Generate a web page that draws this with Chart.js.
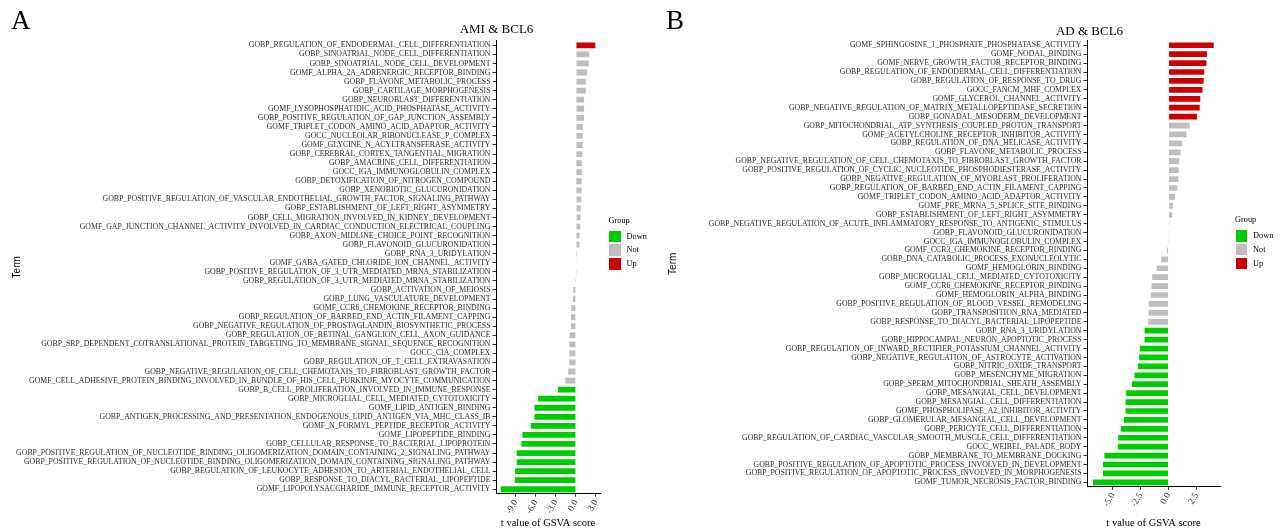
<!DOCTYPE html>
<html lang="en">
<head>
<meta charset="UTF-8">
<title>GSVA t values - AMI &amp; BCL6 / AD &amp; BCL6</title>
<script src="https://cdn.jsdelivr.net/npm/chart.js"></script>
<style>
  body { margin: 0; background: #fff; }
  #page { position: relative; width: 1285px; height: 529px; overflow: hidden; font-family: "Liberation Serif", serif; color: #000; }
  canvas { position: absolute; top: 0; }
  .tag { position: absolute; font-size: 27px; line-height: 27px; }
  .plot-title { position: absolute; font-size: 13px; line-height: 13px; white-space: nowrap; transform: translateX(-50%); }
  .lg-title, .lg-label { position: absolute; font-size: 8.3px; white-space: nowrap; }
  .lg-title { line-height: 8px; }
  .lg-key { position: absolute; width: 11.5px; height: 11.5px; }
</style>
</head>
<body>
<div id="page">
  <canvas id="chartA" width="640" height="529" style="left:0"></canvas>
  <canvas id="chartB" width="645" height="529" style="left:640px"></canvas>
  <div class="tag" style="left:11px; top:6.5px">A</div>
  <div class="tag" style="left:666px; top:6.5px">B</div>
  <div class="plot-title" style="left:496.5px; top:22px">AMI &amp; BCL6</div>
  <div class="plot-title" style="left:1089.5px; top:23.5px">AD &amp; BCL6</div>
</div>
<script>
// ---- data: panel A (AMI & BCL6) ----
const amiTerms = [
  'GOBP_REGULATION_OF_ENDODERMAL_CELL_DIFFERENTIATION',
  'GOBP_SINOATRIAL_NODE_CELL_DIFFERENTIATION',
  'GOBP_SINOATRIAL_NODE_CELL_DEVELOPMENT',
  'GOMF_ALPHA_2A_ADRENERGIC_RECEPTOR_BINDING',
  'GOBP_FLAVONE_METABOLIC_PROCESS',
  'GOBP_CARTILAGE_MORPHOGENESIS',
  'GOBP_NEUROBLAST_DIFFERENTIATION',
  'GOMF_LYSOPHOSPHATIDIC_ACID_PHOSPHATASE_ACTIVITY',
  'GOBP_POSITIVE_REGULATION_OF_GAP_JUNCTION_ASSEMBLY',
  'GOMF_TRIPLET_CODON_AMINO_ACID_ADAPTOR_ACTIVITY',
  'GOCC_NUCLEOLAR_RIBONUCLEASE_P_COMPLEX',
  'GOMF_GLYCINE_N_ACYLTRANSFERASE_ACTIVITY',
  'GOBP_CEREBRAL_CORTEX_TANGENTIAL_MIGRATION',
  'GOBP_AMACRINE_CELL_DIFFERENTIATION',
  'GOCC_IGA_IMMUNOGLOBULIN_COMPLEX',
  'GOBP_DETOXIFICATION_OF_NITROGEN_COMPOUND',
  'GOBP_XENOBIOTIC_GLUCURONIDATION',
  'GOBP_POSITIVE_REGULATION_OF_VASCULAR_ENDOTHELIAL_GROWTH_FACTOR_SIGNALING_PATHWAY',
  'GOBP_ESTABLISHMENT_OF_LEFT_RIGHT_ASYMMETRY',
  'GOBP_CELL_MIGRATION_INVOLVED_IN_KIDNEY_DEVELOPMENT',
  'GOMF_GAP_JUNCTION_CHANNEL_ACTIVITY_INVOLVED_IN_CARDIAC_CONDUCTION_ELECTRICAL_COUPLING',
  'GOBP_AXON_MIDLINE_CHOICE_POINT_RECOGNITION',
  'GOBP_FLAVONOID_GLUCURONIDATION',
  'GOBP_RNA_3_URIDYLATION',
  'GOMF_GABA_GATED_CHLORIDE_ION_CHANNEL_ACTIVITY',
  'GOBP_POSITIVE_REGULATION_OF_3_UTR_MEDIATED_MRNA_STABILIZATION',
  'GOBP_REGULATION_OF_3_UTR_MEDIATED_MRNA_STABILIZATION',
  'GOBP_ACTIVATION_OF_MEIOSIS',
  'GOBP_LUNG_VASCULATURE_DEVELOPMENT',
  'GOMF_CCR6_CHEMOKINE_RECEPTOR_BINDING',
  'GOBP_REGULATION_OF_BARBED_END_ACTIN_FILAMENT_CAPPING',
  'GOBP_NEGATIVE_REGULATION_OF_PROSTAGLANDIN_BIOSYNTHETIC_PROCESS',
  'GOBP_REGULATION_OF_RETINAL_GANGLION_CELL_AXON_GUIDANCE',
  'GOBP_SRP_DEPENDENT_COTRANSLATIONAL_PROTEIN_TARGETING_TO_MEMBRANE_SIGNAL_SEQUENCE_RECOGNITION',
  'GOCC_CIA_COMPLEX',
  'GOBP_REGULATION_OF_T_CELL_EXTRAVASATION',
  'GOBP_NEGATIVE_REGULATION_OF_CELL_CHEMOTAXIS_TO_FIBROBLAST_GROWTH_FACTOR',
  'GOMF_CELL_ADHESIVE_PROTEIN_BINDING_INVOLVED_IN_BUNDLE_OF_HIS_CELL_PURKINJE_MYOCYTE_COMMUNICATION',
  'GOBP_B_CELL_PROLIFERATION_INVOLVED_IN_IMMUNE_RESPONSE',
  'GOBP_MICROGLIAL_CELL_MEDIATED_CYTOTOXICITY',
  'GOMF_LIPID_ANTIGEN_BINDING',
  'GOBP_ANTIGEN_PROCESSING_AND_PRESENTATION_ENDOGENOUS_LIPID_ANTIGEN_VIA_MHC_CLASS_IB',
  'GOMF_N_FORMYL_PEPTIDE_RECEPTOR_ACTIVITY',
  'GOMF_LIPOPEPTIDE_BINDING',
  'GOBP_CELLULAR_RESPONSE_TO_BACTERIAL_LIPOPROTEIN',
  'GOBP_POSITIVE_REGULATION_OF_NUCLEOTIDE_BINDING_OLIGOMERIZATION_DOMAIN_CONTAINING_2_SIGNALING_PATHWAY',
  'GOBP_POSITIVE_REGULATION_OF_NUCLEOTIDE_BINDING_OLIGOMERIZATION_DOMAIN_CONTAINING_SIGNALING_PATHWAY',
  'GOBP_REGULATION_OF_LEUKOCYTE_ADHESION_TO_ARTERIAL_ENDOTHELIAL_CELL',
  'GOBP_RESPONSE_TO_DIACYL_BACTERIAL_LIPOPEPTIDE',
  'GOMF_LIPOPOLYSACCHARIDE_IMMUNE_RECEPTOR_ACTIVITY'
];
const amiValues = [
  2.9, 2.0, 1.92, 1.68, 1.48, 1.48, 1.22, 1.22, 1.2, 1.02,
  1.0, 1.0, 0.95, 0.9, 0.9, 0.85, 0.85, 0.8, 0.75, 0.7,
  0.65, 0.55, 0.55, 0.15, 0.1, 0.02, -0.02, -0.4, -0.45, -0.7,
  -0.75, -0.75, -0.95, -0.95, -0.95, -1.0, -1.15, -1.6, -2.7, -5.65,
  -6.2, -6.2, -6.75, -8.0, -8.15, -8.85, -8.85, -9.1, -9.15, -11.25
];
const amiGroups = [
  'Up', 'Not', 'Not', 'Not', 'Not', 'Not', 'Not', 'Not', 'Not', 'Not',
  'Not', 'Not', 'Not', 'Not', 'Not', 'Not', 'Not', 'Not', 'Not', 'Not',
  'Not', 'Not', 'Not', 'Not', 'Not', 'Not', 'Not', 'Not', 'Not', 'Not',
  'Not', 'Not', 'Not', 'Not', 'Not', 'Not', 'Not', 'Not', 'Down', 'Down',
  'Down', 'Down', 'Down', 'Down', 'Down', 'Down', 'Down', 'Down', 'Down', 'Down'
];

// ---- data: panel B (AD & BCL6) ----
const adTerms = [
  'GOMF_SPHINGOSINE_1_PHOSPHATE_PHOSPHATASE_ACTIVITY',
  'GOMF_NODAL_BINDING',
  'GOMF_NERVE_GROWTH_FACTOR_RECEPTOR_BINDING',
  'GOBP_REGULATION_OF_ENDODERMAL_CELL_DIFFERENTIATION',
  'GOBP_REGULATION_OF_RESPONSE_TO_DRUG',
  'GOCC_FANCM_MHF_COMPLEX',
  'GOMF_GLYCEROL_CHANNEL_ACTIVITY',
  'GOBP_NEGATIVE_REGULATION_OF_MATRIX_METALLOPEPTIDASE_SECRETION',
  'GOBP_GONADAL_MESODERM_DEVELOPMENT',
  'GOBP_MITOCHONDRIAL_ATP_SYNTHESIS_COUPLED_PROTON_TRANSPORT',
  'GOMF_ACETYLCHOLINE_RECEPTOR_INHIBITOR_ACTIVITY',
  'GOBP_REGULATION_OF_DNA_HELICASE_ACTIVITY',
  'GOBP_FLAVONE_METABOLIC_PROCESS',
  'GOBP_NEGATIVE_REGULATION_OF_CELL_CHEMOTAXIS_TO_FIBROBLAST_GROWTH_FACTOR',
  'GOBP_POSITIVE_REGULATION_OF_CYCLIC_NUCLEOTIDE_PHOSPHODIESTERASE_ACTIVITY',
  'GOBP_NEGATIVE_REGULATION_OF_MYOBLAST_PROLIFERATION',
  'GOBP_REGULATION_OF_BARBED_END_ACTIN_FILAMENT_CAPPING',
  'GOMF_TRIPLET_CODON_AMINO_ACID_ADAPTOR_ACTIVITY',
  'GOMF_PRE_MRNA_5_SPLICE_SITE_BINDING',
  'GOBP_ESTABLISHMENT_OF_LEFT_RIGHT_ASYMMETRY',
  'GOBP_NEGATIVE_REGULATION_OF_ACUTE_INFLAMMATORY_RESPONSE_TO_ANTIGENIC_STIMULUS',
  'GOBP_FLAVONOID_GLUCURONIDATION',
  'GOCC_IGA_IMMUNOGLOBULIN_COMPLEX',
  'GOMF_CCR3_CHEMOKINE_RECEPTOR_BINDING',
  'GOBP_DNA_CATABOLIC_PROCESS_EXONUCLEOLYTIC',
  'GOMF_HEMOGLOBIN_BINDING',
  'GOBP_MICROGLIAL_CELL_MEDIATED_CYTOTOXICITY',
  'GOMF_CCR6_CHEMOKINE_RECEPTOR_BINDING',
  'GOMF_HEMOGLOBIN_ALPHA_BINDING',
  'GOBP_POSITIVE_REGULATION_OF_BLOOD_VESSEL_REMODELING',
  'GOBP_TRANSPOSITION_RNA_MEDIATED',
  'GOBP_RESPONSE_TO_DIACYL_BACTERIAL_LIPOPEPTIDE',
  'GOBP_RNA_3_URIDYLATION',
  'GOBP_HIPPOCAMPAL_NEURON_APOPTOTIC_PROCESS',
  'GOBP_REGULATION_OF_INWARD_RECTIFIER_POTASSIUM_CHANNEL_ACTIVITY',
  'GOBP_NEGATIVE_REGULATION_OF_ASTROCYTE_ACTIVATION',
  'GOBP_NITRIC_OXIDE_TRANSPORT',
  'GOBP_MESENCHYME_MIGRATION',
  'GOBP_SPERM_MITOCHONDRIAL_SHEATH_ASSEMBLY',
  'GOBP_MESANGIAL_CELL_DEVELOPMENT',
  'GOBP_MESANGIAL_CELL_DIFFERENTIATION',
  'GOMF_PHOSPHOLIPASE_A2_INHIBITOR_ACTIVITY',
  'GOBP_GLOMERULAR_MESANGIAL_CELL_DEVELOPMENT',
  'GOBP_PERICYTE_CELL_DIFFERENTIATION',
  'GOBP_REGULATION_OF_CARDIAC_VASCULAR_SMOOTH_MUSCLE_CELL_DIFFERENTIATION',
  'GOCC_WEIBEL_PALADE_BODY',
  'GOBP_MEMBRANE_TO_MEMBRANE_DOCKING',
  'GOBP_POSITIVE_REGULATION_OF_APOPTOTIC_PROCESS_INVOLVED_IN_DEVELOPMENT',
  'GOBP_POSITIVE_REGULATION_OF_APOPTOTIC_PROCESS_INVOLVED_IN_MORPHOGENESIS',
  'GOMF_TUMOR_NECROSIS_FACTOR_BINDING'
];
const adValues = [
  4.05, 3.45, 3.4, 3.2, 3.15, 3.05, 2.85, 2.8, 2.55, 1.9,
  1.6, 1.2, 1.08, 0.96, 0.9, 0.87, 0.78, 0.57, 0.39, 0.33,
  0.08, 0.02, -0.02, -0.15, -0.66, -1.05, -1.47, -1.53, -1.6, -1.77,
  -1.8, -1.83, -2.16, -2.16, -2.58, -2.64, -2.76, -3.06, -3.3, -3.81,
  -3.87, -3.87, -4.02, -4.29, -4.53, -4.56, -5.77, -5.89, -5.89, -6.79
];
const adGroups = [
  'Up', 'Up', 'Up', 'Up', 'Up', 'Up', 'Up', 'Up', 'Up', 'Not',
  'Not', 'Not', 'Not', 'Not', 'Not', 'Not', 'Not', 'Not', 'Not', 'Not',
  'Not', 'Not', 'Not', 'Not', 'Not', 'Not', 'Not', 'Not', 'Not', 'Not',
  'Not', 'Not', 'Down', 'Down', 'Down', 'Down', 'Down', 'Down', 'Down', 'Down',
  'Down', 'Down', 'Down', 'Down', 'Down', 'Down', 'Down', 'Down', 'Down', 'Down'
];

const groupNames = ['Down', 'Not', 'Up'];
const groupColors = { Down: '#00CD00', Not: '#BEBEBE', Up: '#CD0000' };

const SERIF = "'Liberation Serif', 'Times New Roman', serif";
const SANS = "'Liberation Sans', Arial, sans-serif";

// one dataset per group, stacked so each term keeps a single bar slot
function buildDatasets(values, groups) {
  return groupNames.map(g => ({
    label: g,
    data: values.map((v, i) => (groups[i] === g ? v : null)),
    backgroundColor: groupColors[g],
    borderWidth: 0,
    barPercentage: 0.64,
    categoryPercentage: 1.0
  }));
}

function drawPanel(id, terms, values, groups, p) {
  return new Chart(document.getElementById(id), {
    type: 'bar',
    data: { labels: terms, datasets: buildDatasets(values, groups) },
    options: {
      indexAxis: 'y',
      responsive: false,
      animation: false,
      events: [],
      layout: { padding: { top: p.top, right: p.right, bottom: 0, left: 0 } },
      plugins: { legend: { display: false }, tooltip: { enabled: false } },
      scales: {
        x: {
          type: 'linear',
          stacked: true,
          min: p.xMin,
          max: p.xMax,
          border: { display: true, color: '#000', width: 1 },
          grid: { drawOnChartArea: false, drawTicks: true, tickLength: 3, color: '#333' },
          ticks: {
            stepSize: p.step,
            includeBounds: false,
            autoSkip: false,
            minRotation: 60,
            maxRotation: 60,
            padding: 1,
            color: '#333',
            font: { family: SERIF, size: 9.2 },
            callback: v => Number(v).toFixed(1)
          },
          title: {
            display: true,
            text: 't value of GSVA score',
            color: '#000',
            font: { family: SERIF, size: 10.5, lineHeight: 1.1 },
            padding: { top: 0, bottom: 0 }
          },
          afterFit: s => { s.height = p.xHeight; }
        },
        y: {
          type: 'category',
          stacked: true,
          border: { display: true, color: '#000', width: 1 },
          grid: { offset: false, drawOnChartArea: false, drawTicks: true, tickLength: 3.5, color: '#333' },
          ticks: {
            autoSkip: false,
            padding: 2,
            color: '#2e2e2e',
            font: { family: SERIF, size: 7.8 }
          },
          title: {
            display: true,
            text: 'Term',
            color: '#000',
            font: { family: SANS, size: 10, lineHeight: 1.2 },
            padding: { top: p.termPad, bottom: 0 }
          },
          afterFit: s => { s.width = p.yWidth; }
        }
      }
    }
  });
}

function drawLegend(left, titleTop, keyTop, step) {
  const page = document.getElementById('page');
  const t = document.createElement('div');
  t.className = 'lg-title';
  t.style.left = left + 'px';
  t.style.top = titleTop + 'px';
  t.textContent = 'Group';
  page.appendChild(t);
  groupNames.forEach((g, i) => {
    const k = document.createElement('div');
    k.className = 'lg-key';
    k.style.left = (left + 0.8) + 'px';
    k.style.top = (keyTop + i * step) + 'px';
    k.style.background = groupColors[g];
    page.appendChild(k);
    const l = document.createElement('div');
    l.className = 'lg-label';
    l.style.left = (left + 18) + 'px';
    l.style.top = (keyTop + i * step) + 'px';
    l.style.lineHeight = '11.5px';
    l.textContent = g;
    page.appendChild(l);
  });
}

drawPanel('chartA', amiTerms, amiValues, amiGroups, {
  top: 40.8, right: 40, xHeight: 35.2, yWidth: 496, termPad: 11,
  xMin: -11.95, xMax: 3.6, step: 3
});
drawPanel('chartB', adTerms, adValues, adGroups, {
  top: 40.8, right: 65, xHeight: 42.2, yWidth: 447, termPad: 27.5,
  xMin: -7.33, xMax: 4.62, step: 2.5
});

drawLegend(608.5, 216.5, 230.8, 13.6);
drawLegend(1235, 216, 230, 13.8);
</script>
</body>
</html>
